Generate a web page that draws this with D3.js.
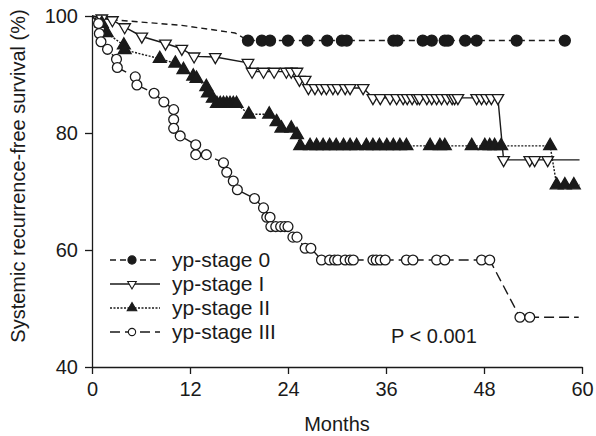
<!DOCTYPE html>
<html>
<head>
<meta charset="utf-8">
<style>
  body { margin: 0; background: #fff; }
  svg text { font-family: Arial, "Liberation Sans", sans-serif; fill: #1a1a1a; }
</style>
</head>
<body>
<svg id="chart" width="596" height="436"></svg>
<script src="https://cdn.jsdelivr.net/npm/d3@7"></script>
<script>
// [month, survival %, censor mark (1) or plain vertex (0)]
const stage0 = [
  [0,100,0],[3,99.3,0],[11,98.4,0],[15,97.6,0],[17.5,97.1,0],[19.1,95.8,1],[20.8,95.8,1],[21.8,95.8,1],
  [24.0,95.8,1],[26.4,95.8,1],[28.8,95.8,1],[30.6,95.8,1],[31.2,95.8,1],[36.9,95.8,1],[37.4,95.8,1],
  [40.5,95.8,1],[41.6,95.8,1],[43.2,95.8,1],[43.6,95.8,1],[45.7,95.8,1],[47.1,95.8,1],[52.0,95.8,1],[57.9,95.8,1]
];
const stage1 = [
  [0,100,0],[1.2,99.6,1],[2.5,99.3,1],[4.0,98.1,1],[6.1,96.5,1],[9.0,95.3,1],[11.0,94.4,1],[12.5,93.1,1],
  [15.1,93.0,1],[19.1,92.0,1],[19.6,90.5,1],[21.0,90.5,1],[22.3,90.5,1],[23.8,90.5,1],[24.4,90.5,1],[25.1,90.5,1],
  [25.4,89.1,1],[26.1,89.1,1],[26.5,87.7,1],[27.3,87.7,1],[28.1,87.7,1],[28.7,87.7,1],[29.5,87.7,1],[30.1,87.7,1],
  [31.0,87.7,1],[31.6,87.7,1],[33.2,87.7,1],[34.4,86.0,1],[35.3,86.0,1],[36.5,86.0,1],[37.3,86.0,1],[38.1,86.0,1],
  [38.6,86.0,1],[39.2,86.0,1],[39.8,86.0,1],[40.1,86.0,1],[41.0,86.0,1],[41.6,86.0,1],[42.2,86.0,1],[42.8,86.0,1],
  [43.5,86.0,1],[44.1,86.0,1],[44.4,86.0,1],[44.8,86.0,1],[47.1,86.0,1],[47.7,86.0,1],[48.3,86.0,1],[48.9,86.0,1],
  [49.7,86.0,1],[50.4,75.4,1],[53.6,75.4,1],[54.2,75.4,1],[55.8,75.4,1],[59.7,75.4,0]
];
const stage2 = [
  [0,100,0],[1.2,98.7,1],[1.8,97.1,1],[3.9,95.0,1],[4.0,94.2,1],[8.3,92.7,1],[10.2,91.9,1],[11.2,90.8,1],
  [12.4,89.7,1],[12.8,89.3,1],[14.0,87.9,1],[14.2,86.8,1],[14.8,85.9,1],[15.3,85.0,1],[15.7,85.0,1],[16.1,85.0,1],
  [16.5,85.0,1],[16.9,85.0,1],[17.3,85.0,1],[17.7,85.0,1],[19.2,83.2,1],[21.7,83.2,1],[22.6,81.9,1],[23.2,80.8,1],
  [24.4,80.8,1],[25.1,79.7,1],[25.5,77.8,1],[26.7,77.8,1],[27.5,77.8,1],[28.3,77.8,1],[29.1,77.8,1],[29.9,77.8,1],
  [30.8,77.8,1],[31.6,77.8,1],[32.4,77.8,1],[33.6,77.8,1],[34.4,77.8,1],[35.2,77.8,1],[36.1,77.8,1],[36.9,77.8,1],
  [37.7,77.8,1],[38.5,77.8,1],[41.4,77.8,1],[42.6,77.8,1],[43.2,77.8,1],[46.5,77.8,1],[48.1,77.8,1],[48.7,77.8,1],
  [49.3,77.8,1],[50.1,77.8,1],[56.1,77.8,1],[56.9,71.1,1],[57.9,71.1,1],[59.0,71.1,1],[59.7,71.1,0]
];
const stage3 = [
  [0,100,0],[0.8,98.7,1],[0.9,97.0,1],[1.1,95.6,1],[1.9,94.3,1],[3.0,92.6,1],[3.1,91.2,1],[5.3,89.6,1],
  [5.5,88.2,1],[7.6,86.8,1],[8.8,85.3,1],[10.0,84.0,1],[10.0,82.3,1],[10.0,80.8,1],[10.8,79.5,1],[12.7,78.0,1],
  [12.7,76.3,1],[14.0,76.3,1],[16.1,74.9,1],[16.5,73.3,1],[17.3,71.8,1],[17.8,70.3,1],[19.9,68.8,1],[21.0,67.2,1],
  [21.4,65.6,1],[21.8,65.6,1],[21.9,64.0,1],[22.5,64.0,1],[23.1,64.0,1],[23.6,64.0,1],[24.0,64.0,1],[24.6,62.2,1],
  [25.1,62.2,1],[26.1,60.3,1],[26.8,60.3,1],[28.1,58.3,1],[29.1,58.3,1],[29.7,58.3,1],[30.1,58.3,1],[31.0,58.3,1],
  [31.6,58.3,1],[32.0,58.3,1],[34.4,58.3,1],[34.8,58.3,1],[35.3,58.3,1],[35.9,58.3,1],[38.5,58.3,1],[39.3,58.3,1],
  [42.2,58.3,1],[43.2,58.3,1],[47.7,58.3,1],[48.7,58.3,1],[52.4,48.5,1],[53.6,48.5,1],[59.6,48.5,0]
];
const seriesNames = ['yp-stage 0', 'yp-stage I', 'yp-stage II', 'yp-stage III'];
const xTicks = [0, 12, 24, 36, 48, 60];
const yTicks = [40, 60, 80, 100];

const ink = '#1a1a1a';
const series = [
  {name: seriesNames[0], data: stage0, dash: '6,4',  symbol: d3.symbolCircle,   size: 95, fill: ink},
  {name: seriesNames[1], data: stage1, dash: null,   symbol: d3.symbolTriangle, size: 58, fill: '#fff', flip: true},
  {name: seriesNames[2], data: stage2, dash: '2,1.5',symbol: d3.symbolTriangle, size: 72, fill: ink},
  {name: seriesNames[3], data: stage3, dash: '10,5', symbol: d3.symbolCircle,   size: 76, fill: '#fff'}
];

const svg = d3.select('#chart');
const x = d3.scaleLinear().domain([0, 60]).range([92, 582]);
const y = d3.scaleLinear().domain([40, 100]).range([367, 16]);

// axes
const xAxis = svg.append('g')
  .attr('transform', `translate(0, ${y(40)})`)
  .call(d3.axisBottom(x).tickValues(xTicks).tickSize(7).tickSizeOuter(0).tickPadding(8));
const yAxis = svg.append('g')
  .attr('transform', `translate(${x(0)}, 0)`)
  .call(d3.axisLeft(y).tickValues(yTicks).tickSize(7).tickSizeOuter(0).tickPadding(7));
[xAxis, yAxis].forEach(a => {
  a.selectAll('path, line').attr('stroke', ink).attr('stroke-width', 1.3);
  a.selectAll('text').attr('font-size', 20).attr('fill', ink)
   .attr('font-family', 'Arial, "Liberation Sans", sans-serif');
});

svg.append('text').attr('x', x(30)).attr('y', 431).attr('text-anchor', 'middle')
  .attr('font-size', 20).text('Months');
svg.append('text').attr('transform', 'translate(25, 176) rotate(-90)').attr('text-anchor', 'middle')
  .attr('font-size', 20).text('Systemic recurrence-free survival (%)');
svg.append('text').attr('x', 391).attr('y', 343).attr('font-size', 20).text('P < 0.001');

// curves
const line = d3.line().x(d => x(d[0])).y(d => y(d[1]));
series.forEach(s => {
  const g = svg.append('g');
  g.append('path').datum(s.data).attr('d', line)
    .attr('fill', 'none').attr('stroke', ink).attr('stroke-width', 1.4)
    .attr('stroke-dasharray', s.dash);
  g.selectAll('path.mark').data(s.data.filter(d => d[2] === 1)).join('path')
    .attr('class', 'mark')
    .attr('d', d3.symbol().type(s.symbol).size(s.size))
    .attr('transform', d => `translate(${x(d[0])}, ${y(d[1])})${s.flip ? ' rotate(180)' : ''}`)
    .attr('fill', s.fill).attr('stroke', ink).attr('stroke-width', 1.3);
});

// legend
const legend = svg.append('g');
series.forEach((s, i) => {
  const ly = 260 + i * 24;
  legend.append('line').attr('x1', 110).attr('x2', 160).attr('y1', ly).attr('y2', ly)
    .attr('stroke', ink).attr('stroke-width', 1.3).attr('stroke-dasharray', s.dash);
  legend.append('path').attr('d', d3.symbol().type(s.symbol).size(s.size * 0.55))
    .attr('transform', `translate(132, ${ly})${s.flip ? ' rotate(180)' : ''}`)
    .attr('fill', s.fill).attr('stroke', ink).attr('stroke-width', 1.1);
  legend.append('text').attr('x', 172).attr('y', ly + 7).attr('font-size', 21).text(s.name);
});
</script>
</body>
</html>
